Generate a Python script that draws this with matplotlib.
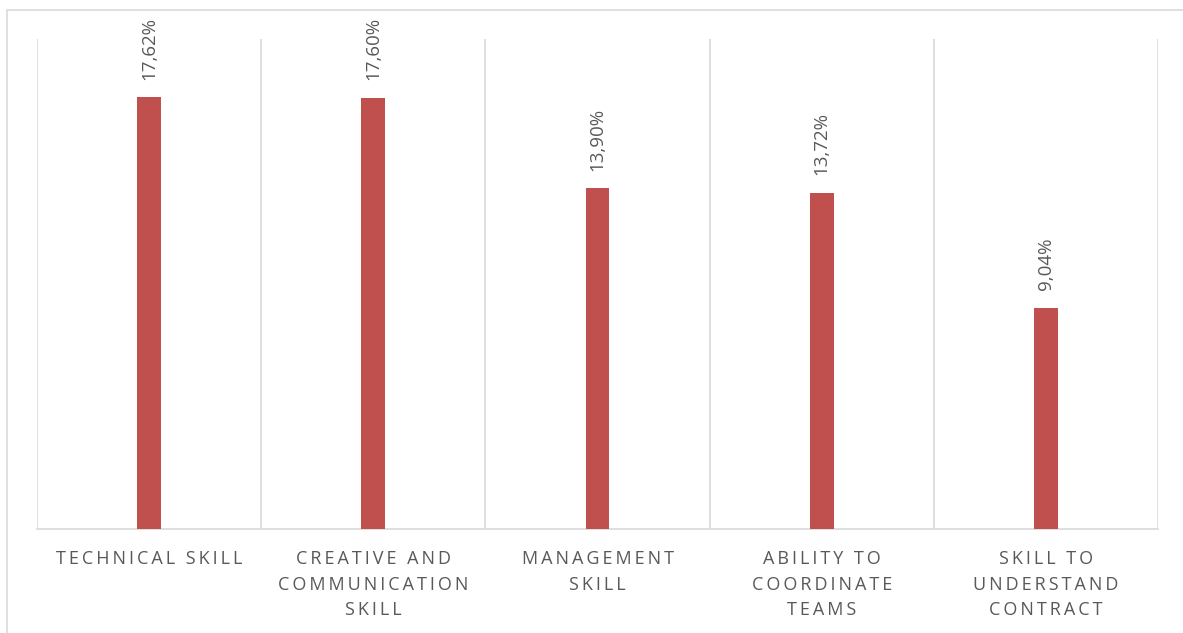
import matplotlib
matplotlib.use('Agg')
import matplotlib.pyplot as plt
from matplotlib.patches import Rectangle
import numpy as np

# Skill shares (percent)
categories = ['TECHNICAL SKILL', 'CREATIVE AND\nCOMMUNICATION\nSKILL', 'MANAGEMENT\nSKILL',
              'ABILITY TO\nCOORDINATE\nTEAMS', 'SKILL TO\nUNDERSTAND\nCONTRACT']
values = [17.62, 17.60, 13.90, 13.72, 9.04]
value_labels = ['17,62%', '17,60%', '13,90%', '13,72%', '9,04%']

bar_color = '#C0504D'
grid_color = '#D9D9D9'
text_color = '#595959'

plt.rcParams['font.family'] = ['Open Sans', 'DejaVu Sans']


def spaced(label):
    # emulate Excel-style character spacing
    return '\n'.join('\u2009'.join(line) for line in label.split('\n'))


W, H = 1183, 633
fig = plt.figure(figsize=(W / 100, H / 100), dpi=100)

# outer chart frame (partially cropped)
fig.patches.append(Rectangle((7 / W, -0.1), 1.2, (H - 10) / H + 0.1, transform=fig.transFigure,
                             fill=False, edgecolor=grid_color, linewidth=1.2))

ax = fig.add_axes([37 / W, (H - 529) / H, (1158 - 37) / W, (529 - 39) / H])
x = np.arange(len(categories))
ax.bar(x, values, width=0.107, color=bar_color, zorder=3)

ax.set_xlim(-0.5, len(categories) - 0.5)
ax.set_ylim(0, 20)

for xb in np.arange(-0.5, len(categories), 1.0):
    ax.axvline(xb, color=grid_color, linewidth=1.2, zorder=1)

for xi, v, lab in zip(x, values, value_labels):
    ax.annotate(lab, (xi, v), xytext=(0, 12.5), textcoords='offset points',
                rotation=90, ha='center', va='bottom', fontsize=13.5, color=text_color)

ax.set_xticks(x)
ax.set_xticklabels([spaced(c) for c in categories], fontsize=13, color=text_color,
                   linespacing=1.55)
ax.tick_params(axis='x', length=0, pad=15)
ax.set_yticks([])
for s in ['top', 'left', 'right']:
    ax.spines[s].set_visible(False)
ax.spines['bottom'].set_color(grid_color)
ax.spines['bottom'].set_linewidth(1.2)

fig.savefig('out.png', dpi=100)
